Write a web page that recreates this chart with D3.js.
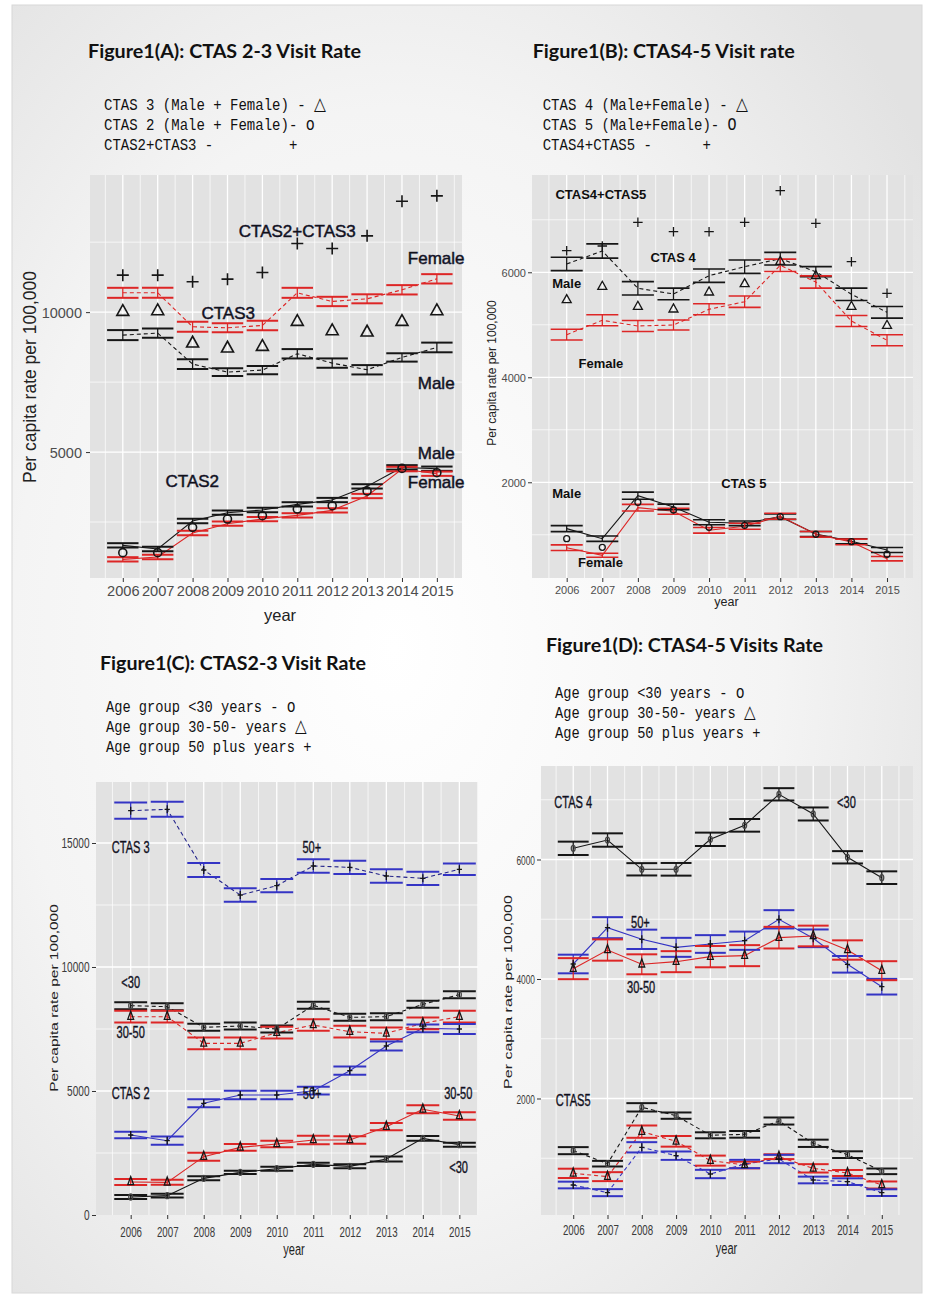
<!DOCTYPE html>
<html><head><meta charset="utf-8">
<script src="https://cdn.jsdelivr.net/npm/d3@7"></script>
<style>
html,body{margin:0;padding:0;background:#fff;}
svg{display:block;}
text{font-family:"Liberation Sans",Arial,sans-serif;}
.mono{font-family:"Liberation Mono","DejaVu Sans Mono",monospace;white-space:pre;}
.title{font-family:Lato,"Open Sans",sans-serif;font-weight:bold;}
</style></head><body>
<svg id="chart" width="934" height="1299"></svg>
<script>
// ---------------- data ----------------
const years = [2006,2007,2008,2009,2010,2011,2012,2013,2014,2015];

// Figure 1(A): CTAS 2-3 by sex
const aCtas3Male      = [9179,9250,8143,7857,7929,8512,8179,7940,8381,8738];
const aCtas3MaleErr   = [179,167,173,137,149,167,167,167,149,173];
const aCtas3Female    = [10690,10690,9476,9440,9524,10690,10381,10476,10798,11190];
const aCtas3FemaleErr = [179,179,179,161,167,179,167,161,167,167];
const aCtas3All       = [10012,10036,8881,8702,8762,9655,9321,9274,9655,10036];
const aCtas2Male      = [1667,1536,2536,2833,2929,3131,3286,3774,4452,4405];
const aCtas2MaleErr   = [77,77,77,77,77,77,77,77,80,77];
const aCtas2Female    = [1167,1250,2107,2440,2607,2738,2917,3429,4393,4226];
const aCtas2FemaleErr = [77,77,77,77,77,77,77,77,80,77];
const aCtas2All       = [1405,1405,2310,2607,2726,2964,3083,3607,4417,4262];
const aCtas23All      = [11321,11321,11083,11179,11417,12452,12274,12726,13964,14155];
const aYTicks = [5000,10000];
const aYMinor = [2500,7500,12500];
const aLabels = [["CTAS2+CTAS3",2011.0,12893],["Female",2014.98,11929],["CTAS3",2009.02,9964],
                 ["Male",2014.98,7464],["Male",2014.98,4964],["CTAS2",2007.99,3964],["Female",2014.98,3929]];

// Figure 1(B): CTAS 4-5 by sex
const bCtas4Male      = [6158,6406,5695,5587,5935,6107,6259,6012,5581,5238];
const bCtas4MaleErr   = [127,136,127,111,127,127,121,95,117,111];
const bCtas4Female    = [4812,5086,4977,4996,5295,5440,6133,5815,5072,4705];
const bCtas4FemaleErr = [102,105,105,95,105,108,117,117,105,105];
const bCtas4All       = [5472,5726,5345,5295,5619,5777,6202,5930,5345,4983];
const bCtas45All      = [6411,6501,6952,6773,6773,6952,7554,6933,6202,5600];
const bCtas5Male      = [1117,926,1745,1530,1238,1219,1345,1015,876,710];
const bCtas5MaleErr   = [57,51,67,54,48,44,51,48,48,48];
const bCtas5Female    = [754,610,1516,1448,1086,1162,1352,1010,863,545];
const bCtas5FemaleErr = [54,38,63,57,54,57,57,54,54,41];
const bCtas5All       = [926,762,1619,1472,1143,1181,1345,1010,869,629];
const bYTicks = [2000,4000,6000];
const bYMinor = [1000,3000,5000,7000];
const bLabels = [["CTAS4+CTAS5",2006.96,7491],["CTAS 4",2008.99,6291],["Male",2006.0,5777],
                 ["Female",2006.96,4272],["Male",2006.0,1777],["CTAS 5",2010.98,1968],["Female",2006.95,463]];

// Figure 1(C): CTAS 2-3 by age group
const cCtas3Old      = [16303,16358,13911,12903,13280,14073,14019,13669,13575,13940];
const cCtas3OldErr   = [329,302,282,269,269,269,269,269,269,235];
const cCtas3Young    = [8441,8400,7567,7621,7500,8454,7970,7997,8495,8884];
const cCtas3YoungErr = [141,141,141,141,141,141,141,141,141,141];
const cCtas3Mid      = [7997,7997,6922,6922,7352,7661,7392,7325,7728,7997];
const cCtas3MidErr   = [235,235,235,235,235,235,235,235,235,235];
const cCtas2Old      = [3226,2997,4503,4839,4839,5013,5820,6815,7527,7500];
const cCtas2OldErr   = [134,168,161,175,175,155,168,181,155,202];
const cCtas2Mid      = [1331,1317,2352,2728,2863,3024,3024,3562,4261,3992];
const cCtas2MidErr   = [121,101,161,134,134,168,148,148,161,148];
const cCtas2Young    = [726,780,1478,1720,1868,2043,1962,2258,3091,2836];
const cCtas2YoungErr = [81,74,81,67,81,67,81,101,94,81];
const cYTicks = [0,5000,10000,15000];
const cYMinor = [2500,7500,12500];
const cLabels = [["CTAS 3",2006.0,14851],["50+",2010.96,14851],["<30",2006.0,9407],["30-50",2006.0,7391],
                 ["CTAS 2",2006.0,4931],["50+",2010.97,4931],["30-50",2014.97,4931],["<30",2014.98,1948]];

// Figure 1(D): CTAS 4-5 by age group
const dCtas4Young    = [6187,6326,5836,5836,6338,6572,7091,6762,6037,5696];
const dCtas4YoungErr = [112,112,103,106,112,106,103,109,103,106];
const dCtas4Old      = [4251,4859,4664,4530,4586,4641,4999,4681,4246,3871];
const dCtas4OldErr   = [156,176,162,159,148,153,153,148,139,131];
const dCtas4Mid      = [4173,4485,4246,4290,4374,4391,4692,4720,4485,4139];
const dCtas4MidErr   = [176,178,167,176,178,176,181,173,162,159];
const dCtas5Young    = [1127,909,1852,1713,1384,1400,1623,1250,1060,781];
const dCtas5YoungErr = [59,47,70,53,50,56,59,61,56,47];
const dCtas5Mid      = [747,692,1445,1283,960,887,1026,831,753,552];
const dCtas5MidErr   = [78,75,103,89,84,56,40,70,50,59];
const dCtas5Old      = [552,424,1183,1043,736,904,987,636,608,424];
const dCtas5OldErr   = [56,59,86,70,70,70,70,56,56,56];
const dYTicks = [2000,4000,6000];
const dYMinor = [1000,3000,5000,7000];
const dLabels = [["CTAS 4",2006.0,6957],["<30",2013.97,6962],["50+",2007.96,4949],["30-50",2007.98,3871],["CTAS5",2006.0,1975]];

const titles = ["Figure1(A): CTAS 2-3 Visit Rate","Figure1(B): CTAS4-5 Visit rate",
                "Figure1(C): CTAS2-3 Visit Rate","Figure1(D): CTAS4-5 Visits Rate"];
const legendA = [["CTAS 3 (Male + Female) - ","\u25B3"],["CTAS 2 (Male + Female)- ","o"],["CTAS2+CTAS3 -         ","+"]];
const legendB = [["CTAS 4 (Male+Female) - ","\u25B3"],["CTAS 5 (Male+Female)- ","O"],["CTAS4+CTAS5 -      ","+"]];
const legendAge = [["Age group <30 years - ","o"],["Age group 30-50- years ","\u25B3"],["Age group 50 plus years ","+"]];
const yTitle = "Per capita rate per 100,000";
const xTitle = "year";

// ---------------- drawing ----------------
const BLACK = "#161616", RED = "#dd2626", BLUE = "#3434c4";
const svg = d3.select("#chart");
const defs = svg.append("defs");
const rg = defs.append("radialGradient").attr("id","bgGrad").attr("cx","42%").attr("cy","50%").attr("r","70%");
rg.append("stop").attr("offset","0%").attr("stop-color","#ffffff");
rg.append("stop").attr("offset","60%").attr("stop-color","#f4f4f4");
rg.append("stop").attr("offset","100%").attr("stop-color","#e2e2e2");
svg.append("rect").attr("width",934).attr("height",1299).attr("fill","#fff");
svg.append("rect").attr("x",12).attr("y",5).attr("width",910).attr("height",1288)
   .attr("fill","url(#bgGrad)").attr("stroke","#d8d8d8");

function marker(g, type, cx, cy, size, color, sx, sw){
  if(type==="tri"){
    const w=size*sx, h=size*0.9;
    g.append("path").attr("d",`M${cx},${cy-2*h/3}L${cx+w/2},${cy+h/3}L${cx-w/2},${cy+h/3}Z`)
     .attr("fill","none").attr("stroke",color).attr("stroke-width",sw);
  } else if(type==="circle"){
    g.append("ellipse").attr("cx",cx).attr("cy",cy).attr("rx",size/2*sx).attr("ry",size/2)
     .attr("fill","none").attr("stroke",color).attr("stroke-width",sw);
  } else if(type==="plus"){
    const w=size/2*sx, h=size/2;
    g.append("path").attr("d",`M${cx-w},${cy}H${cx+w}M${cx},${cy-h}V${cy+h}`)
     .attr("fill","none").attr("stroke",color).attr("stroke-width",sw);
  }
}

function drawPanel(c){
  const g = svg.append("g");
  const x = d3.scaleLinear().domain(c.xDom).range([c.left,c.right]);
  const y = d3.scaleLinear().domain(c.yDom).range([c.bottom,c.top]);
  g.append("rect").attr("x",c.left).attr("y",c.top).attr("width",c.right-c.left).attr("height",c.bottom-c.top).attr("fill",c.bg);
  c.yMinor.forEach(v=>g.append("line").attr("x1",c.left).attr("x2",c.right).attr("y1",y(v)).attr("y2",y(v)).attr("stroke","#fff").attr("stroke-width",0.7));
  c.yTicks.filter(v=>v>c.yDom[0]).forEach(v=>g.append("line").attr("x1",c.left).attr("x2",c.right).attr("y1",y(v)).attr("y2",y(v)).attr("stroke","#fff").attr("stroke-width",1.3));
  years.forEach(yr=>{
    g.append("line").attr("x1",x(yr-0.5)).attr("x2",x(yr-0.5)).attr("y1",c.top).attr("y2",c.bottom).attr("stroke","#fff").attr("stroke-width",0.7);
    g.append("line").attr("x1",x(yr)).attr("x2",x(yr)).attr("y1",c.top).attr("y2",c.bottom).attr("stroke","#fff").attr("stroke-width",1.3);
  });
  g.append("line").attr("x1",x(2015.5)).attr("x2",x(2015.5)).attr("y1",c.top).attr("y2",c.bottom).attr("stroke","#fff").attr("stroke-width",0.7);

  // axes
  const ya = g.append("g").attr("transform",`translate(${c.left},0)`)
    .call(d3.axisLeft(y).tickValues(c.yTicks).tickSize(4).tickFormat(d3.format("d")));
  ya.select(".domain").remove();
  ya.selectAll("line").attr("stroke","#333");
  ya.selectAll("text").attr("x",null).attr("dy","0.35em")
    .attr("transform",`translate(${-c.yPad},0) scale(${c.ysx},1)`)
    .attr("font-size",c.yTickSize).attr("fill",c.tickColor).attr("font-family","Liberation Sans, Arial, sans-serif");
  const xa = g.append("g").attr("transform",`translate(0,${c.bottom})`)
    .call(d3.axisBottom(x).tickValues(years).tickSize(4).tickFormat(d3.format("d")));
  xa.select(".domain").remove();
  xa.selectAll("line").attr("stroke","#333");
  xa.selectAll("text").attr("y",null).attr("dy","0.71em")
    .attr("transform",`translate(0,${c.xPad}) scale(${c.sx},1)`)
    .attr("font-size",c.xTickSize).attr("fill",c.tickColor).attr("font-family","Liberation Sans, Arial, sans-serif");

  // titles of axes
  g.append("text").attr("transform",`translate(${(c.left+c.right)/2 + c.xtDx},${c.xtY}) scale(${c.sx},1)`)
    .attr("text-anchor","middle").attr("dominant-baseline","central").attr("font-size",c.xtSize).attr("fill","#222").text(xTitle);
  g.append("text").attr("transform",`translate(${c.ytX},${c.ytY}) rotate(-90) scale(1,${c.sx})`)
    .attr("text-anchor","middle").attr("dominant-baseline","central").attr("font-size",c.ytSize).attr("fill","#222").text(yTitle);

  // connecting lines
  c.series.forEach(s=>{
    const line = d3.line().x((d,i)=>x(years[i])).y(d=>y(d));
    g.append("path").datum(s.vals).attr("d",line).attr("fill","none")
     .attr("stroke",s.lineColor||s.color).attr("stroke-width",s.lw||1.1)
     .attr("stroke-dasharray",s.dash?"4,3":null);
  });
  // error bars
  c.series.forEach(s=>{
    s.vals.forEach((v,i)=>{
      const e=s.err[i], xc=x(years[i]), x0=x(years[i]-0.45), x1=x(years[i]+0.45);
      g.append("line").attr("x1",xc).attr("x2",xc).attr("y1",y(v-e)).attr("y2",y(v+e)).attr("stroke",s.color).attr("stroke-width",1.3);
      [v-e,v+e].forEach(b=>g.append("line").attr("x1",x0).attr("x2",x1).attr("y1",y(b)).attr("y2",y(b)).attr("stroke",s.color).attr("stroke-width",c.capW));
    });
  });
  // markers
  c.series.forEach(s=>{ if(s.marker) s.vals.forEach((v,i)=>marker(g,s.marker,x(years[i]),y(v),c.mSize[s.marker],s.mColor||BLACK,c.sx,c.mW)); });
  (c.points||[]).forEach(p=>p.vals.forEach((v,i)=>marker(g,p.marker,x(years[i]),y(v),c.pSize[p.marker],BLACK,1,c.pW)));
  // labels
  c.labels.forEach(l=>{
    g.append("text").attr("transform",`translate(${x(l[1])},${y(l[2])}) scale(${c.sx},1)`)
     .attr("text-anchor","middle").attr("dominant-baseline","central")
     .attr("font-size",c.labSize).attr("font-weight",c.labWeight).attr("fill","#0e0e0e")
     .attr("stroke","#1c1c3c").attr("stroke-width",c.labStroke).text(l[0]);
  });
}

// Panel A
drawPanel({left:90,right:462,top:175,bottom:578,xDom:[2005.06,2015.72],yDom:[500,14900],
  bg:"#e2e2e2",yTicks:aYTicks,yMinor:aYMinor,sx:1,ysx:1,yPad:8,xPad:7.5,yTickSize:14.5,xTickSize:14.6,tickColor:"#4d4d4d",
  xtDx:4,xtY:615,xtSize:16.5,ytX:30,ytY:377,ytSize:17.5,capW:2,mW:1.6,pW:1.6,
  mSize:{},pSize:{tri:12,circle:8,plus:12},
  labSize:17,labWeight:"normal",labStroke:0.5,labels:aLabels,
  series:[
    {vals:aCtas3Male,err:aCtas3MaleErr,color:BLACK,dash:true},
    {vals:aCtas3Female,err:aCtas3FemaleErr,color:RED,dash:true},
    {vals:aCtas2Male,err:aCtas2MaleErr,color:BLACK},
    {vals:aCtas2Female,err:aCtas2FemaleErr,color:RED}],
  points:[{vals:aCtas3All,marker:"tri"},{vals:aCtas2All,marker:"circle"},{vals:aCtas23All,marker:"plus"}]});

// Panel B
drawPanel({left:532,right:913,top:175,bottom:578,xDom:[2005.025,2015.73],yDom:[177,7853],
  bg:"#e2e2e2",yTicks:bYTicks,yMinor:bYMinor,sx:1,ysx:1,yPad:6,xPad:8,yTickSize:11,xTickSize:11,tickColor:"#4d4d4d",
  xtDx:4,xtY:602,xtSize:12.5,ytX:492,ytY:373,ytSize:12,capW:1.6,mW:1.4,pW:1.3,
  mSize:{},pSize:{tri:9,circle:6,plus:9.5},
  labSize:13,labWeight:"bold",labStroke:0,labels:bLabels,
  series:[
    {vals:bCtas4Male,err:bCtas4MaleErr,color:BLACK,dash:true},
    {vals:bCtas4Female,err:bCtas4FemaleErr,color:RED,dash:true},
    {vals:bCtas5Male,err:bCtas5MaleErr,color:BLACK},
    {vals:bCtas5Female,err:bCtas5FemaleErr,color:RED}],
  points:[{vals:bCtas4All,marker:"tri"},{vals:bCtas5All,marker:"circle"},{vals:bCtas45All,marker:"plus"}]});

// Panel C
drawPanel({left:96,right:478,top:782,bottom:1215,xDom:[2005.05,2015.51],yDom:[0,17460],
  bg:"#e2e2e2",yTicks:cYTicks,yMinor:cYMinor,sx:0.65,ysx:0.72,yPad:6.5,xPad:11.5,yTickSize:14,xTickSize:15,tickColor:"#3a3a3a",
  xtDx:7,xtY:1249,xtSize:17,ytX:55,ytY:998,ytSize:15.5,capW:2,mW:1.3,pW:1.3,
  mSize:{tri:9,circle:6,plus:8},pSize:{},
  labSize:17,labWeight:"normal",labStroke:0.4,labels:cLabels,
  series:[
    {vals:cCtas3Old,err:cCtas3OldErr,color:BLUE,lineColor:"#22228a",dash:true,marker:"plus"},
    {vals:cCtas3Young,err:cCtas3YoungErr,color:BLACK,dash:true,marker:"circle",mColor:"#444"},
    {vals:cCtas3Mid,err:cCtas3MidErr,color:RED,dash:true,marker:"tri"},
    {vals:cCtas2Old,err:cCtas2OldErr,color:BLUE,marker:"plus"},
    {vals:cCtas2Mid,err:cCtas2MidErr,color:RED,marker:"tri"},
    {vals:cCtas2Young,err:cCtas2YoungErr,color:BLACK,marker:"circle",mColor:"#444"}]});

// Panel D
drawPanel({left:541,right:913,top:766,bottom:1215,xDom:[2005.06,2015.91],yDom:[50,7565],
  bg:"#e2e2e2",yTicks:dYTicks,yMinor:dYMinor,sx:0.65,ysx:0.62,yPad:6,xPad:9.5,yTickSize:13.5,xTickSize:15,tickColor:"#3a3a3a",
  xtDx:-0.5,xtY:1248,xtSize:17,ytX:509,ytY:992,ytSize:16,capW:2,mW:1.3,pW:1.3,
  mSize:{tri:9,circle:6,plus:8},pSize:{},
  labSize:17,labWeight:"normal",labStroke:0.4,labels:dLabels,
  series:[
    {vals:dCtas4Young,err:dCtas4YoungErr,color:BLACK,marker:"circle",mColor:"#444"},
    {vals:dCtas4Old,err:dCtas4OldErr,color:BLUE,marker:"plus"},
    {vals:dCtas4Mid,err:dCtas4MidErr,color:RED,marker:"tri"},
    {vals:dCtas5Young,err:dCtas5YoungErr,color:BLACK,dash:true,marker:"circle",mColor:"#444"},
    {vals:dCtas5Mid,err:dCtas5MidErr,color:RED,dash:true,marker:"tri"},
    {vals:dCtas5Old,err:dCtas5OldErr,color:BLUE,dash:true,marker:"plus"}]});

// titles
[[88,58,273],[532.7,58,262],[100,670,266],[546,652,277]].forEach((p,i)=>{
  svg.append("text").attr("class","title").attr("x",p[0]).attr("y",p[1]).attr("font-size",18.5)
     .attr("fill","#111").attr("textLength",p[2]).attr("lengthAdjust","spacingAndGlyphs").text(titles[i]);
});
// legends
function legend(lines,x0,y0,sx){
  lines.forEach((t,i)=>{
    const tx = svg.append("text").attr("class","mono")
      .attr("transform",`translate(${x0},${y0+i*20}) scale(${sx},1)`)
      .attr("font-size",16.3).attr("fill","#111");
    tx.append("tspan").text(t[0]);
    const big = t[1]==="\u25B3";
    tx.append("tspan").attr("font-family",big?"DejaVu Sans":null)
      .attr("font-size",big?18:(t[1]==="+"?16.3:17.5)).text(t[1]);
  });
}
legend(legendA,104,110,0.86);
legend(legendB,542.7,110,0.86);
legend(legendAge,106,711.7,0.84);
legend(legendAge,555,698.3,0.84);
</script>
</body></html>
